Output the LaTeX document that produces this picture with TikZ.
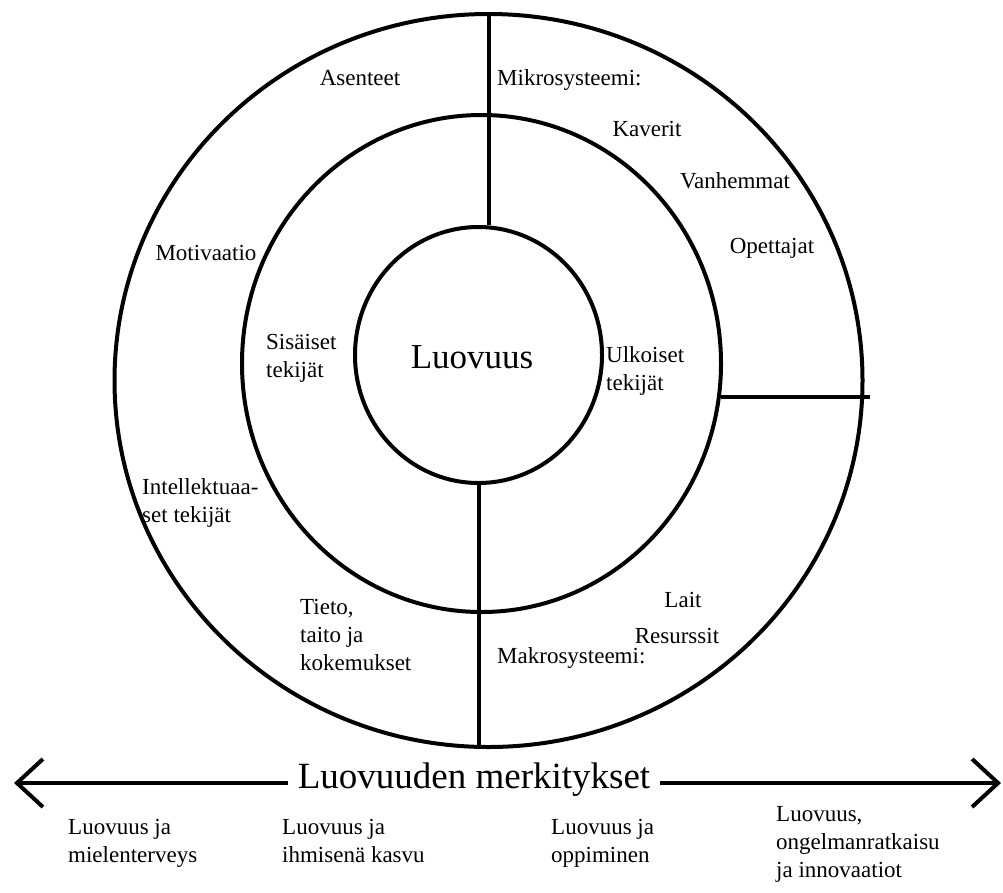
\documentclass[tikz,border=0pt]{standalone}
\usepackage{fontspec}
\setmainfont{Liberation Serif}
\usetikzlibrary{shapes.geometric}
\usetikzlibrary{arrows.meta}
\usetikzlibrary{positioning}

\begin{document}
\begin{tikzpicture}[
  x=1pt, y=-1pt,
  every node/.style={font=\fontsize{23}{28}\selectfont, inner sep=0pt},
  ring/.style={draw, ellipse, line width=4pt, inner sep=0pt},
  divider/.style={line width=4pt},
  txt/.style={align=left, anchor=west},
  meaning/.style={align=left, anchor=north west},
  barb/.style={line width=4pt,
    {Straight Barb[length=26pt,width=48pt]}-{Straight Barb[length=26pt,width=48pt]}}
]
\useasboundingbox (0,0) rectangle (1003,892);

% Rings
\node[ring, minimum width=748pt, minimum height=733pt] (outer) at (488.5,380.5) {};
\node[ring, minimum width=479pt, minimum height=497pt] (middle) at (481.5,363.5) {};
\node[ring, minimum width=247pt, minimum height=256pt] (inner) at (478.5,355) {};

% Dividers
\coordinate (rgt) at (870,396);
\draw[divider] (outer.north) -- (outer.north |- inner.north);
\draw[divider] (inner.south) -- (inner.south |- outer.south);
\draw[divider] (middle.-8) -- (middle.-8 -| rgt);

% Centre
\node[font=\fontsize{35}{40}\selectfont] (luo) at (472,357) {Luovuus};
\node[txt] (sis) at (266,358) {Sisäiset\\tekijät};
\node[txt] (ulk) at (606,371) {Ulkoiset\\tekijät};

% Inner factors
\node (ase) at (360,78) {Asenteet};
\node (mot) at (206,253) {Motivaatio};
\node[txt] (int) at (142,503) {Intellektuaa-\\set tekijät};
\node[txt] (tie) at (300,635) {Tieto,\\taito ja\\kokemukset};

% Outer factors
\node[anchor=west] (mik) at (497,80) {Mikrosysteemi:};
\node (kav) at (647,129) {Kaverit};
\node (van) at (735,181) {Vanhemmat};
\node (ope) at (772,248) {Opettajat};
\node (lai) at (683,600) {Lait};
\node (res) at (677,636) {Resurssit};
\node[anchor=west] (mak) at (497,658) {Makrosysteemi:};

% Arrow
\coordinate (al) at (14,783);
\coordinate (ar) at (1001,783);
\draw[barb] (al) -- (ar);
\node[fill=white, inner xsep=10pt, inner ysep=2pt, font=\fontsize{37}{40}\selectfont] (mer) at (474,780) {Luovuuden merkitykset};

% Meanings
\node[meaning] (m1) at (68,819) {Luovuus ja\\mielenterveys};
\node[meaning] (m2) at (282,819) {Luovuus ja\\ihmisenä kasvu};
\node[meaning] (m3) at (551,819) {Luovuus ja\\oppiminen};
\node[meaning] (m4) at (776,806) {Luovuus,\\ongelmanratkaisu\\ja innovaatiot};
\end{tikzpicture}
\end{document}
